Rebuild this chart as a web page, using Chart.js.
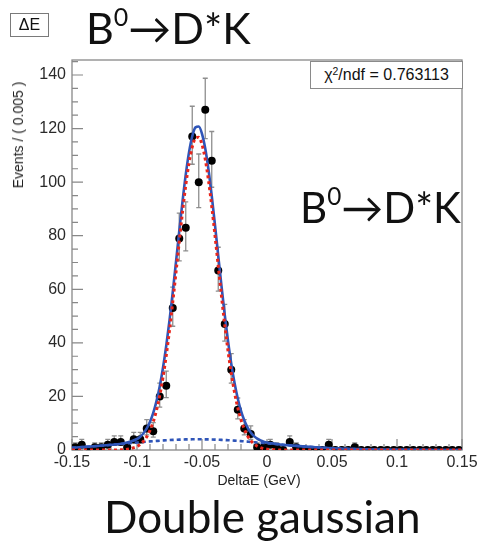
<!DOCTYPE html>
<html>
<head>
<meta charset="utf-8">
<script src="https://cdn.jsdelivr.net/npm/chart.js@4.4.1/dist/chart.umd.min.js"></script>
<style>
  html, body { margin: 0; padding: 0; background: #fff; }
  #wrap { position: relative; width: 481px; height: 541px; overflow: hidden; }
  #c { position: absolute; left: 0; top: 0; }
  .lbl { position: absolute; white-space: nowrap; color: #111; }
  .big { font-family: "Lato", "Open Sans", sans-serif; line-height: 1; }
  .big sup { font-size: 0.58em; position: relative; top: -0.72em; vertical-align: baseline; line-height: 0; }
  #tagBox { left: 10px; top: 13px; width: 39px; height: 24px; box-sizing: border-box;
            border: 1px solid #7a7a7a; font: 16px "Liberation Sans", sans-serif; line-height: 22px; text-align: center; }
  #title1 { left: 86px; top: 6px; font-size: 43px; }
  #title2 { left: 300px; top: 186px; font-size: 42px; }
  #caption { left: 104px; top: 494px; font-size: 44px; }
  #chiBox { left: 310px; top: 61px; width: 153px; height: 28px; box-sizing: border-box; background: #fff;
            border: 1px solid #8a8a8a; font: 16px "Liberation Sans", sans-serif; line-height: 26px; text-align: center; }
  #chiBox sup { font-size: 0.65em; position: relative; top: -0.5em; vertical-align: baseline; line-height: 0; }
  #ytitle { left: 18px; top: 135px; transform: translate(-50%, -50%) rotate(-90deg);
            font: 14px "Liberation Sans", sans-serif; color: #222; }
  #xtitle { left: 259px; top: 480px; transform: translate(-50%, -50%);
            font: 14px "Liberation Sans", sans-serif; color: #222; }
</style>
</head>
<body>
<div id="wrap">
  <canvas id="c" width="481" height="541"></canvas>
  <div class="lbl" id="tagBox">ΔE</div>
  <div class="lbl big" id="title1">B<sup>0</sup>→D*K</div>
  <div class="lbl big" id="title2">B<sup>0</sup>→D*K</div>
  <div class="lbl" id="chiBox">χ<sup>2</sup>/ndf = 0.763113</div>
  <div class="lbl" id="ytitle">Events / ( 0.005 )</div>
  <div class="lbl" id="xtitle">DeltaE (GeV)</div>
  <div class="lbl big" id="caption">Double gaussian</div>
</div>
<script>
// Histogram of DeltaE: bin centres (bin width 0.005 GeV) and event counts
const binCenters = [
  -0.1475, -0.1425, -0.1375, -0.1325, -0.1275, -0.1225, -0.1175, -0.1125, -0.1075, -0.1025,
  -0.0975, -0.0925, -0.0875, -0.0825, -0.0775, -0.0725, -0.0675, -0.0625, -0.0575, -0.0525,
  -0.0475, -0.0425, -0.0375, -0.0325, -0.0275, -0.0225, -0.0175, -0.0125, -0.0075, -0.0025,
   0.0025,  0.0075,  0.0125,  0.0175,  0.0225,  0.0275,  0.0325,  0.0375,  0.0425,  0.0475,
   0.0525,  0.0575,  0.0625,  0.0675,  0.0725,  0.0775,  0.0825,  0.0875,  0.0925,  0.0975,
   0.1025,  0.1075,  0.1125,  0.1175,  0.1225,  0.1275,  0.1325,  0.1375,  0.1425,  0.1475
];
const counts = [
  1, 2, 0, 1, 1, 2, 3, 3, 1, 4,
  4, 8, 7, 20, 24, 53, 79, 83, 117, 100,
  127, 108, 67, 47, 30, 15, 8, 6, 1, 1,
  2, 1, 0, 3, 1, 0, 0, 0, 0, 2,
  0, 0, 0, 1, 0, 0, 0, 0, 0, 0,
  0, 0, 0, 0, 0, 0, 0, 0, 0, 0
];

// Fit curves (double gaussian) sampled along DeltaE
const curveX = [
  -0.15, -0.14, -0.13, -0.12, -0.11, -0.10,
  -0.0975, -0.095, -0.0925, -0.09, -0.0875, -0.085, -0.0825, -0.08, -0.0775, -0.075,
  -0.0725, -0.07, -0.0675, -0.065, -0.0625, -0.06, -0.0575, -0.055, -0.0525, -0.05,
  -0.0475, -0.045, -0.0425, -0.04, -0.0375, -0.035, -0.0325, -0.03, -0.0275, -0.025,
  -0.0225, -0.02, -0.0175, -0.015, -0.0125, -0.01, -0.0075, -0.005, -0.0025, 0,
  0.01, 0.02, 0.03, 0.04, 0.05, 0.06, 0.07, 0.08, 0.09, 0.10, 0.11, 0.12, 0.13, 0.14, 0.15
];
const totalCurve = [
  0.86, 1.16, 1.52, 1.94, 2.51, 4.10,
  4.98, 6.26, 8.05, 10.52, 13.85, 18.23, 23.81, 30.69, 38.93, 48.42,
  58.97, 70.21, 81.68, 92.76, 102.80, 111.12, 117.15, 120.45, 120.76, 118.04,
  112.53, 104.62, 94.87, 83.94, 72.51, 61.17, 50.45, 40.73, 32.24, 25.07,
  19.24, 14.63, 11.11, 8.48, 6.57, 5.20, 4.25, 3.59, 3.12, 2.79,
  2.08, 1.64, 1.26, 0.94, 0.68, 0.48, 0.32, 0.21, 0.13, 0.08, 0.05, 0.03, 0.02, 0.01, 0.00
];
const narrowCurve = [
  0, 0, 0, 0.01, 0.15, 1.30,
  2.08, 3.25, 4.94, 7.31, 10.55, 14.84, 20.33, 27.13, 35.29, 44.71,
  55.20, 66.39, 77.81, 88.85, 98.85, 107.15, 113.16, 116.45, 116.76, 114.05,
  108.55, 100.67, 90.95, 80.06, 68.68, 57.39, 46.73, 37.08, 28.66, 21.57,
  15.83, 11.31, 7.88, 5.35, 3.54, 2.28, 1.43, 0.88, 0.52, 0.30,
  0.03, 0, 0, 0, 0, 0, 0, 0, 0, 0, 0, 0, 0, 0, 0
];
const broadCurve = [
  0.86, 1.16, 1.52, 1.93, 2.36, 2.80,
  2.90, 3.01, 3.11, 3.21, 3.30, 3.39, 3.48, 3.56, 3.64, 3.71,
  3.77, 3.82, 3.87, 3.91, 3.95, 3.97, 3.99, 4.00, 4.00, 3.99,
  3.98, 3.95, 3.92, 3.88, 3.83, 3.78, 3.72, 3.65, 3.58, 3.50,
  3.41, 3.32, 3.23, 3.13, 3.03, 2.92, 2.82, 2.71, 2.60, 2.49,
  2.05, 1.64, 1.26, 0.94, 0.68, 0.48, 0.32, 0.21, 0.13, 0.08, 0.05, 0.03, 0.02, 0.01, 0.00
];

// Axis ticks
const xTickValues = [-0.15, -0.10, -0.05, 0, 0.05, 0.10, 0.15];
const xTickLabels = ['-0.15', '-0.1', '-0.05', '0', '0.05', '0.1', '0.15'];
const yTickValues = [0, 20, 40, 60, 80, 100, 120, 140];
const yTickLabels = ['0', '20', '40', '60', '80', '100', '120', '140'];
const yMax = 145.6;

const axisFont = { family: '"Liberation Sans", Arial, sans-serif', size: 16 };
const axisGrey = '#888888';

// Frame, inward ticks and asymmetric Poisson error bars
const frameAndErrors = {
  id: 'frameAndErrors',
  beforeDatasetsDraw(chart) {
    const { ctx, chartArea: a, scales: { x, y } } = chart;
    ctx.save();
    ctx.strokeStyle = axisGrey;
    ctx.lineWidth = 1.3;
    ctx.strokeRect(a.left, a.top, a.right - a.left, a.bottom - a.top);

    ctx.lineWidth = 1.2;
    ctx.beginPath();
    // y ticks: majors every 20, four subdivisions
    for (let i = 0; i < yTickValues.length; i++) {
      const v = yTickValues[i];
      const py = y.getPixelForValue(v);
      ctx.moveTo(a.left, py); ctx.lineTo(a.left + 11, py);
      const step = (yTickValues[1] - yTickValues[0]) / 4;
      for (let k = 1; k < 4; k++) {
        const mv = v + k * step;
        if (mv > yMax) break;
        const mp = y.getPixelForValue(mv);
        ctx.moveTo(a.left, mp); ctx.lineTo(a.left + 6, mp);
      }
    }
    // x ticks: majors every 0.05, five subdivisions
    for (let i = 0; i < xTickValues.length; i++) {
      const v = xTickValues[i];
      const px = x.getPixelForValue(v);
      ctx.moveTo(px, a.bottom); ctx.lineTo(px, a.bottom - 11);
      if (i < xTickValues.length - 1) {
        const step = (xTickValues[i + 1] - v) / 5;
        for (let k = 1; k < 5; k++) {
          const mp = x.getPixelForValue(v + k * step);
          ctx.moveTo(mp, a.bottom); ctx.lineTo(mp, a.bottom - 6);
        }
      }
    }
    ctx.stroke();

    // error bars
    ctx.strokeStyle = '#8e8e8e';
    ctx.lineWidth = 1.3;
    ctx.beginPath();
    binCenters.forEach((c, i) => {
      const n = counts[i];
      const s = Math.sqrt(n + 0.25);
      const lo = n - (s - 0.5);
      const hi = n + (s + 0.5);
      const px = x.getPixelForValue(c);
      const pLo = y.getPixelForValue(lo);
      const pHi = y.getPixelForValue(hi);
      ctx.moveTo(px, pLo); ctx.lineTo(px, pHi);
      ctx.moveTo(px - 2.5, pHi); ctx.lineTo(px + 2.5, pHi);
      ctx.moveTo(px - 2.5, pLo); ctx.lineTo(px + 2.5, pLo);
    });
    ctx.stroke();
    ctx.restore();
  }
};

const toXY = (xs, ys) => xs.map((v, i) => ({ x: v, y: ys[i] }));

new Chart(document.getElementById('c'), {
  type: 'scatter',
  data: {
    datasets: [
      {
        label: 'data',
        data: toXY(binCenters, counts),
        backgroundColor: '#000',
        borderColor: '#000',
        pointRadius: 4,
        pointBorderWidth: 0,
        order: 10
      },
      {
        label: 'double gaussian',
        type: 'line',
        data: toXY(curveX, totalCurve),
        borderColor: '#2f55b8',
        borderWidth: 2.6,
        pointRadius: 0,
        cubicInterpolationMode: 'monotone',
        fill: false,
        order: 3
      },
      {
        label: 'broad gaussian',
        type: 'line',
        data: toXY(curveX, broadCurve),
        borderColor: '#2f55b8',
        borderWidth: 2.6,
        borderDash: [4, 3],
        pointRadius: 0,
        cubicInterpolationMode: 'monotone',
        fill: false,
        order: 2
      },
      {
        label: 'narrow gaussian',
        type: 'line',
        data: toXY(curveX, narrowCurve),
        borderColor: '#e8261c',
        borderWidth: 3,
        borderDash: [3, 3],
        pointRadius: 0,
        cubicInterpolationMode: 'monotone',
        fill: false,
        order: 1
      }
    ]
  },
  options: {
    responsive: false,
    animation: false,
    events: [],
    layout: { padding: { left: 0, right: 19, top: 60, bottom: 70 } },
    plugins: { legend: { display: false }, tooltip: { enabled: false } },
    scales: {
      x: {
        type: 'linear',
        min: -0.15,
        max: 0.15,
        afterBuildTicks: (s) => { s.ticks = xTickValues.map(v => ({ value: v })); },
        afterFit: (s) => { s.height = 21; },
        grid: { display: false, drawTicks: false },
        border: { display: false },
        ticks: {
          callback: (v, i) => xTickLabels[i],
          font: axisFont, color: '#2a2a2a', padding: 3,
          maxRotation: 0, minRotation: 0, autoSkip: false
        }
      },
      y: {
        type: 'linear',
        min: 0,
        max: yMax,
        afterBuildTicks: (s) => { s.ticks = yTickValues.map(v => ({ value: v })); },
        afterFit: (s) => { s.width = 72; },
        grid: { display: false, drawTicks: false },
        border: { display: false },
        ticks: {
          callback: (v, i) => yTickLabels[i],
          font: axisFont, color: '#2a2a2a', padding: 6, autoSkip: false
        }
      }
    }
  },
  plugins: [frameAndErrors]
});
</script>
</body>
</html>
